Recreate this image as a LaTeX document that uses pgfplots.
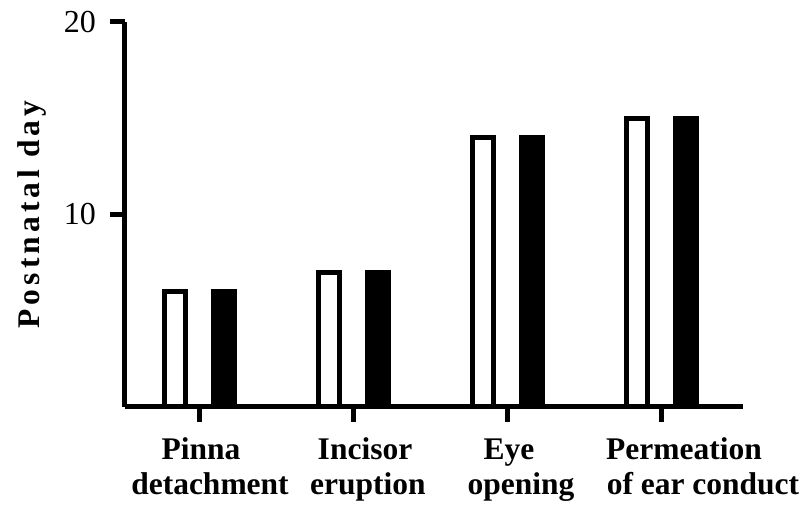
\documentclass[border=0pt]{standalone}
\usepackage{fontspec}
\setmainfont{Liberation Serif}
\newfontfamily\spacedfont[LetterSpace=13]{Liberation Serif}
\usepackage{pgfplots}
\pgfplotsset{compat=1.18}
\newcommand{\lab}[2]{\makebox[0pt]{\rule{0pt}{23.6pt}\hspace*{#1}#2}}
\begin{document}
\begin{tikzpicture}
\path[use as bounding box] (0,0) rectangle (807pt,505pt);
\begin{axis}[
  at={(125pt,98pt)}, anchor=south west,
  scale only axis, width=618pt, height=385pt,
  xmin=-0.487, xmax=3.526, ymin=0, ymax=20,
  axis x line=bottom, axis y line=left,
  axis line style={-, line width=5pt, black},
  every tick/.style={line width=5pt, black},
  tick align=outside, major tick length=15pt,
  xtick={0,1,2,3},
  xticklabels={{\lab{2pt}{Pinna}\\\lab{20pt}{detachment}},{\lab{22pt}{Incisor}\\\lab{28pt}{eruption}},{\lab{2pt}{Eye}\\\lab{26pt}{opening}},{\lab{44pt}{Permeation}\\\lab{82pt}{of ear conduct}}},
  xticklabel style={align=center, font=\bfseries\fontsize{31.5}{35}\selectfont, inner sep=0pt, anchor=north, yshift=-14pt},
  ytick={10,20},
  yticklabels={10,20},
  yticklabel style={font=\fontsize{32}{32}\selectfont, inner sep=0pt, xshift=-14pt},
  ylabel={Postnatal day},
  ylabel style={at={(axis description cs:-0.139,0.5)}, anchor=base, font=\spacedfont\bfseries\fontsize{31.5}{31.5}\selectfont},
  ybar, bar width=21pt,
  clip=false,
]
\addplot[draw=black, fill=white, line width=5pt, bar shift=-24.5pt] coordinates {(0,6) (1,7) (2,14) (3,15)};
\addplot[draw=black, fill=black, line width=5pt, bar shift=24.5pt] coordinates {(0,6) (1,7) (2,14) (3,15)};
\end{axis}
\end{tikzpicture}
\end{document}
